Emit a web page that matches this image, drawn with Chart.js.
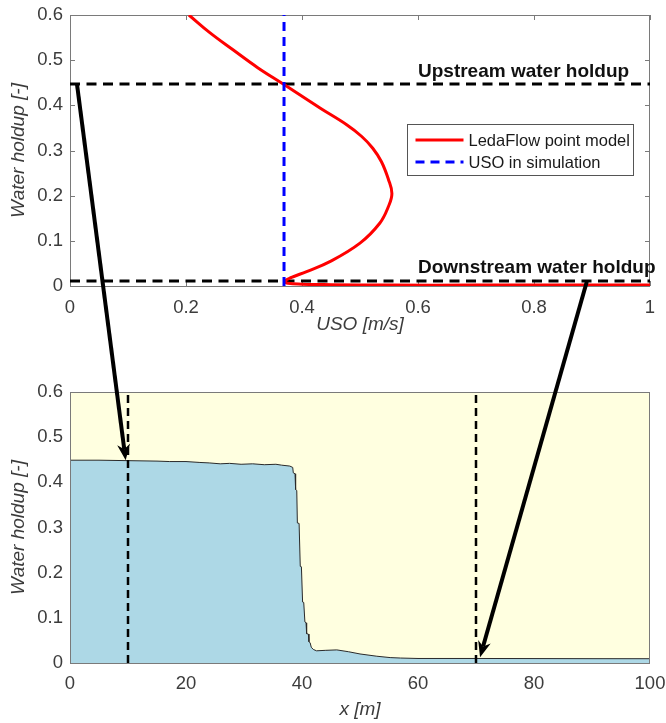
<!DOCTYPE html>
<html>
<head>
<meta charset="utf-8">
<script src="https://cdn.jsdelivr.net/npm/chart.js@4.4.0/dist/chart.umd.min.js"></script>
<style>
  html, body { margin: 0; padding: 0; background: #ffffff; }
  #wrap { position: relative; width: 666px; height: 723px; overflow: hidden; background: #ffffff; }
  #wrap canvas { position: absolute; left: 0; }
  #topPanel { top: 0; width: 666px; height: 345px; }
  #bottomPanel { top: 345px; width: 666px; height: 378px; }
  #arrows { top: 0; width: 666px; height: 723px; pointer-events: none; }
</style>
</head>
<body>
<div id="wrap">
  <canvas id="topPanel" width="666" height="345"></canvas>
  <canvas id="bottomPanel" width="666" height="378"></canvas>
  <canvas id="arrows" width="666" height="723"></canvas>
</div>
<script>
// ---- tick labels ----
const usoTicks = [0, 0.2, 0.4, 0.6, 0.8, 1];
const holdupTicks = [0, 0.1, 0.2, 0.3, 0.4, 0.5, 0.6];
const distanceTicks = [0, 20, 40, 60, 80, 100];

// ---- LedaFlow point model: USO [m/s] against water holdup [-] ----
const ledaUSO     = [0.205, 0.241, 0.281, 0.323, 0.369, 0.431, 0.477, 0.503, 0.522, 0.537, 0.549, 0.555, 0.549, 0.534, 0.500, 0.448, 0.408, 0.382, 0.370, 0.376, 0.400, 0.450, 0.550, 0.700, 1.000];
const ledaHoldup  = [0.600, 0.561, 0.523, 0.484, 0.446, 0.394, 0.357, 0.331, 0.305, 0.275, 0.236, 0.205, 0.176, 0.139, 0.095, 0.054, 0.032, 0.019, 0.011, 0.006, 0.004, 0.003, 0.002, 0.002, 0.002];

// ---- simulation reference values ----
const usoSimulation = 0.369;
const upstreamHoldup = 0.447;
const downstreamHoldup = 0.011;

// ---- simulated holdup profile along the pipe ----
const pipeX      = [0, 5, 10, 15, 17.2, 20, 22.4, 24, 25.9, 27.5, 29.5, 31.5, 33.5, 35.5, 36.5, 37.9, 38.4, 38.5, 38.8, 38.9, 39.1, 39.2, 39.5, 39.7, 39.9, 40.1, 40.3, 40.5, 40.7, 40.8, 41.1, 41.2, 41.4, 41.6, 41.95, 42.5, 44, 46, 48, 50, 52.9, 55.2, 57, 60, 70, 80, 90, 100];
const pipeHoldup = [0.449, 0.449, 0.448, 0.447, 0.446, 0.446, 0.444, 0.443, 0.441, 0.442, 0.440, 0.441, 0.439, 0.440, 0.438, 0.436, 0.433, 0.421, 0.419, 0.384, 0.382, 0.310, 0.309, 0.214, 0.213, 0.135, 0.134, 0.091, 0.089, 0.065, 0.064, 0.047, 0.045, 0.035, 0.030, 0.027, 0.028, 0.029, 0.025, 0.020, 0.015, 0.012, 0.011, 0.010, 0.010, 0.0098, 0.0096, 0.0095];

// ---- probe positions along the pipe [m] ----
const probeX = [10, 70];

// ---- arrows: from (USO, holdup) in the upper panel to (x, holdup) in the lower panel ----
const arrowStarts = [[0.012, 0.447], [0.891, 0.0095]];
const arrowEnds   = [[9.6, 0.449], [70.7, 0.013]];

// ---- annotations ----
const holdupLabels = ['Upstream water holdup', 'Downstream water holdup'];
const holdupLabelAt = [[0.6, 0.475], [0.6, 0.040]];

const FONT = "'Liberation Sans', Arial, Helvetica, sans-serif";
const TXT = '#3c3c3c';
const FRAME = '#7a7a7a';
const tickFont = { family: FONT, size: 18.5 };
const titleFont = { family: FONT, size: 19, style: 'italic' };

Chart.defaults.font.family = FONT;
Chart.defaults.color = TXT;

const toPoints = (xs, ys) => xs.map((v, i) => ({ x: v, y: ys[i] }));
const fixedTicks = list => scale => { scale.ticks = list.map(v => ({ value: v })); };

// fixed axis size, no extra label overflow padding so the plot box stays put
const fitX = h => s => { s.height = h; s.paddingLeft = 0; s.paddingRight = 0; };
const fitY = w => s => { s.width = w; s.paddingTop = 0; s.paddingBottom = 0; };

function axis(min, max, list, tickPad, extra) {
  return Object.assign({
    type: 'linear', min, max,
    afterBuildTicks: fixedTicks(list),
    grid: { display: false, drawTicks: false },
    border: { display: false },
    ticks: { font: tickFont, color: TXT, autoSkip: false, maxRotation: 0, padding: tickPad, callback: v => String(v) }
  }, extra);
}

function drawFrame(chart, withTicks) {
  const { ctx, chartArea: a, scales } = chart;
  ctx.save();
  ctx.strokeStyle = FRAME;
  ctx.lineWidth = 1;
  ctx.strokeRect(Math.round(a.left) + 0.5, Math.round(a.top) + 0.5,
                 Math.round(a.right - a.left) - 1, Math.round(a.bottom - a.top));
  if (withTicks) {
    const len = 5;
    ctx.beginPath();
    scales.x.ticks.forEach(t => {
      const p = Math.round(scales.x.getPixelForValue(t.value)) + 0.5;
      ctx.moveTo(p, a.bottom); ctx.lineTo(p, a.bottom - len);
      ctx.moveTo(p, a.top); ctx.lineTo(p, a.top + len);
    });
    scales.y.ticks.forEach(t => {
      const p = Math.round(scales.y.getPixelForValue(t.value)) + 0.5;
      ctx.moveTo(a.left, p); ctx.lineTo(a.left + len, p);
      ctx.moveTo(a.right, p); ctx.lineTo(a.right - len, p);
    });
    ctx.stroke();
  }
  ctx.restore();
}

// Box with ticks drawn under the curves of the upper panel
const upperFrame = {
  id: 'upperFrame',
  beforeDatasetsDraw(chart) { drawFrame(chart, true); }
};

// Holdup annotations and legend box of the upper panel
const upperAnnotations = {
  id: 'upperAnnotations',
  afterDatasetsDraw(chart) {
    const { ctx, chartArea: a, scales } = chart;
    ctx.save();
    ctx.font = 'bold 19px ' + FONT;
    ctx.fillStyle = '#111111';
    ctx.textAlign = 'left';
    ctx.textBaseline = 'middle';
    holdupLabels.forEach((txt, i) => {
      ctx.fillText(txt, scales.x.getPixelForValue(holdupLabelAt[i][0]),
                        scales.y.getPixelForValue(holdupLabelAt[i][1]));
    });

    // legend
    const items = chart.data.datasets.filter(d => d.label);
    const w = 226, h = 51;
    const left = Math.round(a.right - 17 - w) + 0.5;
    const top = Math.round(a.top + 109) + 0.5;
    ctx.fillStyle = '#ffffff';
    ctx.fillRect(left, top, w, h);
    ctx.strokeStyle = '#555555';
    ctx.lineWidth = 1;
    ctx.strokeRect(left, top, w, h);
    ctx.font = '16.5px ' + FONT;
    items.forEach((d, i) => {
      const cy = top + 15.5 + i * 22;
      ctx.save();
      ctx.strokeStyle = d.borderColor;
      ctx.lineWidth = d.borderWidth;
      ctx.setLineDash(d.borderDash || []);
      ctx.beginPath();
      ctx.moveTo(left + 8, cy);
      ctx.lineTo(left + 56, cy);
      ctx.stroke();
      ctx.restore();
      ctx.fillStyle = '#1a1a1a';
      ctx.fillText(d.label, left + 61, cy + 1);
    });
    ctx.restore();
  }
};

const upperChart = new Chart(document.getElementById('topPanel'), {
  type: 'scatter',
  data: {
    datasets: [
      {
        label: 'LedaFlow point model',
        data: toPoints(ledaUSO, ledaHoldup),
        showLine: true, borderColor: '#ff0000', borderWidth: 3,
        pointRadius: 0, tension: 0.4, order: 2
      },
      {
        label: 'USO in simulation',
        data: toPoints([usoSimulation, usoSimulation], [0, 0.6]),
        showLine: true, borderColor: '#0000ff', borderWidth: 3, borderDash: [9, 6],
        pointRadius: 0, order: 1
      },
      {
        data: toPoints([0, 1], [upstreamHoldup, upstreamHoldup]),
        showLine: true, borderColor: '#000000', borderWidth: 3, borderDash: [10, 6.5],
        pointRadius: 0, order: 3
      },
      {
        data: toPoints([0, 1], [downstreamHoldup, downstreamHoldup]),
        showLine: true, borderColor: '#000000', borderWidth: 3, borderDash: [10, 6.5],
        pointRadius: 0, order: 3
      }
    ]
  },
  options: {
    responsive: false,
    animation: false,
    events: [],
    layout: { padding: { top: 15, right: 16, left: 0, bottom: 0 } },
    plugins: { legend: { display: false }, tooltip: { enabled: false } },
    scales: {
      x: axis(0, 1, usoTicks, 11.2, {
        position: 'bottom',
        afterFit: fitX(59),
        title: { display: true, text: 'USO [m/s]', font: titleFont, color: TXT, padding: { top: 0, bottom: 8.6 } }
      }),
      y: axis(0, 0.6, holdupTicks, 7, {
        position: 'left',
        afterFit: fitY(70),
        title: { display: true, text: 'Water holdup [-]', font: titleFont, color: TXT, padding: { top: 7.5, bottom: 0 } }
      })
    }
  },
  plugins: [upperFrame, upperAnnotations]
});

// Light-yellow gas region behind the profile, frame on top
const lowerBackground = {
  id: 'lowerBackground',
  beforeDatasetsDraw(chart) {
    const { ctx, chartArea: a } = chart;
    ctx.save();
    ctx.fillStyle = '#ffffe0';
    ctx.fillRect(a.left, a.top, a.right - a.left, a.bottom - a.top);
    ctx.restore();
  },
  afterDatasetsDraw(chart) { drawFrame(chart, false); }
};

const lowerChart = new Chart(document.getElementById('bottomPanel'), {
  type: 'line',
  data: {
    datasets: [
      {
        data: toPoints(pipeX, pipeHoldup),
        fill: 'origin', backgroundColor: '#add8e6',
        borderColor: '#2a2a2a', borderWidth: 1,
        pointRadius: 0, tension: 0, order: 2
      },
      ...probeX.map(px => ({
        data: toPoints([px, px], [0, 0.6]),
        fill: false, borderColor: '#000000', borderWidth: 2.5, borderDash: [8, 5],
        pointRadius: 0, order: 1
      }))
    ]
  },
  options: {
    responsive: false,
    animation: false,
    events: [],
    layout: { padding: { top: 47, right: 16, left: 0, bottom: 0 } },
    plugins: { legend: { display: false }, tooltip: { enabled: false } },
    scales: {
      x: axis(0, 100, distanceTicks, 10.2, {
        position: 'bottom',
        afterFit: fitX(60),
        title: { display: true, text: 'x [m]', font: titleFont, color: TXT, padding: { top: 0, bottom: 1.6 } }
      }),
      y: axis(0, 0.6, holdupTicks, 7, {
        position: 'left',
        afterFit: fitY(70),
        title: { display: true, text: 'Water holdup [-]', font: titleFont, color: TXT, padding: { top: 7.5, bottom: 0 } }
      })
    }
  },
  plugins: [lowerBackground]
});

// ---- arrows linking the two panels ----
function drawArrow(ctx, x0, y0, x1, y1) {
  const ang = Math.atan2(y1 - y0, x1 - x0);
  const ux = Math.cos(ang), uy = Math.sin(ang);
  const px = -uy, py = ux;
  const headLen = 16, headW = 6.5, notch = 11;
  ctx.save();
  ctx.strokeStyle = '#000000';
  ctx.fillStyle = '#000000';
  ctx.lineWidth = 4;
  ctx.lineCap = 'butt';
  ctx.beginPath();
  ctx.moveTo(x0, y0);
  ctx.lineTo(x1 - ux * notch, y1 - uy * notch);
  ctx.stroke();
  ctx.beginPath();
  ctx.moveTo(x1, y1);
  ctx.lineTo(x1 - ux * headLen + px * headW, y1 - uy * headLen + py * headW);
  ctx.lineTo(x1 - ux * notch, y1 - uy * notch);
  ctx.lineTo(x1 - ux * headLen - px * headW, y1 - uy * headLen - py * headW);
  ctx.closePath();
  ctx.fill();
  ctx.restore();
}

const overlay = document.getElementById('arrows').getContext('2d');
const lowerOffset = 345;
arrowStarts.forEach((s, i) => {
  const e = arrowEnds[i];
  const x0 = upperChart.scales.x.getPixelForValue(s[0]);
  const y0 = upperChart.scales.y.getPixelForValue(s[1]);
  const x1 = lowerChart.scales.x.getPixelForValue(e[0]);
  const y1 = lowerChart.scales.y.getPixelForValue(e[1]) + lowerOffset;
  drawArrow(overlay, x0, y0, x1, y1);
});
</script>
</body>
</html>
